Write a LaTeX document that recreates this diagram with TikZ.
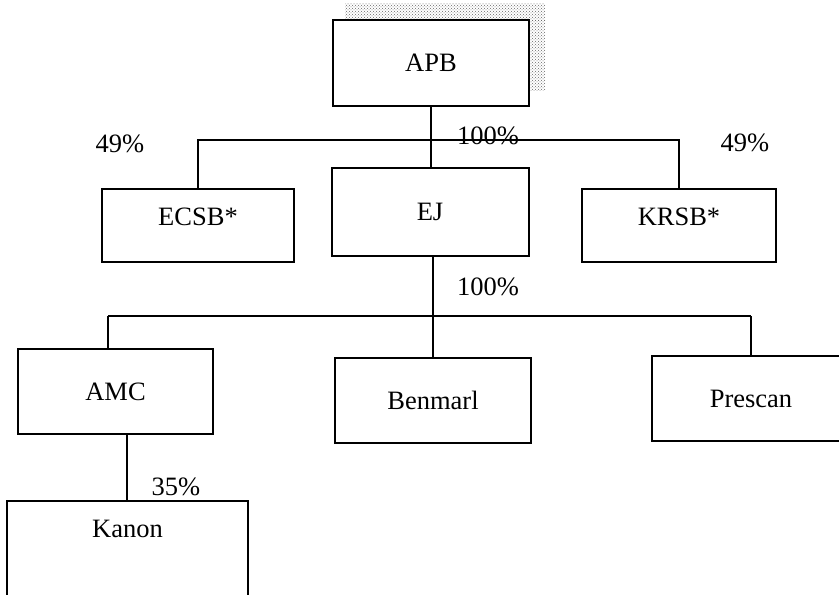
\documentclass[tikz,border=0pt]{standalone}
\usepackage{fontspec}
\setmainfont{Liberation Serif}
\usepackage{tikz}
\usetikzlibrary{patterns}

\tikzset{
	box/.style={draw, line width=2pt, rectangle, minimum width=195pt, minimum height=86pt, align=center},
	upbox/.style={box, minimum height=73pt, inner ysep=0pt, text height=36pt, text depth=37pt},
	pct/.style={inner sep=0pt},
	link/.style={line width=2pt}
}

\begin{document}
\begin{tikzpicture}[x=1pt, y=-1pt, font=\fontsize{26.5}{30}\selectfont]
			\useasboundingbox (0,0) rectangle (839,595);
			\clip (0,0) rectangle (839,595);
			
			% speckled shade round the top box
			\fill[pattern=crosshatch dots, pattern color=black!60] (345,3) rectangle (545,20);
			\fill[pattern=crosshatch dots, pattern color=black!60] (529,20) rectangle (545,90);
			
			\node[box, minimum width=196pt] (apb) at (431,63) {APB};
			\node[box, minimum width=197pt, minimum height=88pt] (ej) at (430,212) {EJ};
			\node[upbox, minimum width=192pt] (ecsb) at (198,225.5) {ECSB*};
			\node[upbox, minimum width=194pt] (krsb) at (679,225.5) {KRSB*};
			
			\node[box, minimum height=85pt] (amc) at (115.5,391.5) {AMC};
			\node[box, minimum width=196pt, minimum height=85pt] (benmarl) at (433,400.5) {Benmarl};
			\node[box, minimum width=198pt, minimum height=85pt] (prescan) at (751,398.5) {Prescan};
			\node[box, minimum width=241pt, inner ysep=0pt, text height=36pt, text depth=114pt] (kanon) at (127.5,576) {Kanon};
			
			\node[pct] (p1) at (120,144) {49\%};
			\node[pct] (p2) at (488,136) {100\%};
			\node[pct] (p3) at (745,143) {49\%};
			\node[pct] (p4) at (488,287) {100\%};
			\node[pct] (p5) at (176,487) {35\%};
			
			\coordinate (lowl) at (108,316);
			\coordinate (lowr) at (751,316);
			
			\draw[link, line width=2.6pt] (apb.south) -- (apb.south |- ej.north);
			\draw[link] (ecsb.north) -- ++(0,-48) -| (krsb.north);
			
			\draw[link] (ej.south -| benmarl.north) -- (benmarl.north);
			\draw[link] (lowl) -- (lowr);
			\draw[link] (lowl) -- (lowl |- amc.north);
			\draw[link] (lowr) -- (prescan.north);
			
			\draw[link] (127,434) -- (127,501);
			
			\end{tikzpicture}
\end{document}
